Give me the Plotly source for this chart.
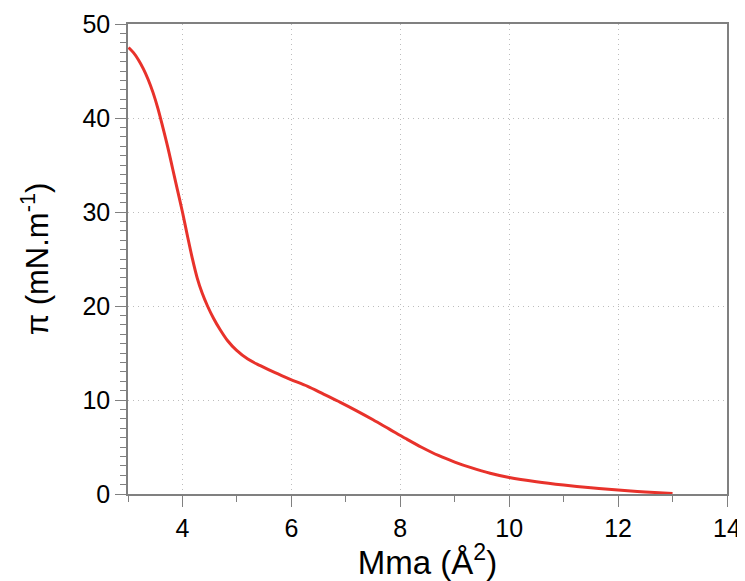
import plotly.graph_objects as go

mma = [3.01, 3.10, 3.19, 3.28, 3.37, 3.46, 3.55, 3.64, 3.73, 3.82, 3.91, 4.00,
       4.09, 4.18, 4.27, 4.36, 4.46, 4.57, 4.69, 4.83, 4.99, 5.20, 5.43, 5.70,
       5.98, 6.30, 6.60, 6.90, 7.20, 7.50, 7.80, 8.10, 8.40, 8.70, 9.00, 9.30,
       9.65, 10.0, 10.5, 11.0, 11.5, 12.0, 12.5, 13.0]
pressure = [47.5, 46.95, 46.2, 45.25, 44.1, 42.7, 41.0, 39.0, 36.9, 34.6, 32.3, 30.0,
            27.5, 25.1, 23.0, 21.4, 20.0, 18.7, 17.5, 16.3, 15.3, 14.35, 13.65, 12.9,
            12.2, 11.45, 10.6, 9.75, 8.85, 7.9, 6.9, 5.9, 4.95, 4.1, 3.4, 2.8,
            2.2, 1.75, 1.3, 0.95, 0.66, 0.42, 0.22, 0.05]

x_ticks = [4, 6, 8, 10, 12, 14]
x_minor = [3, 5, 7, 9, 11, 13]
y_ticks = [0, 10, 20, 30, 40, 50]

FONT = "Liberation Sans, Arial, Helvetica, sans-serif"
AX = "#808080"
GRID = "#bdbdbd"

fig = go.Figure()
fig.add_trace(go.Scatter(
    x=mma, y=pressure, mode="lines",
    line=dict(color="#e8322b", width=3, shape="spline", smoothing=1),
    showlegend=False, hoverinfo="skip",
))

axis_common = dict(
    showline=True, linecolor=AX, linewidth=1.5, mirror=True,
    ticks="outside", ticklen=11, tickwidth=1.2, tickcolor=AX,
    showgrid=True, gridcolor=GRID, gridwidth=1, griddash="1px,4px",
    zeroline=False, automargin=False,
    tickfont=dict(family=FONT, size=25, color="#000000"),
)

fig.update_xaxes(
    range=[3, 14], tickvals=x_ticks,
    minor=dict(tickvals=x_minor, ticks="outside", ticklen=6,
               tickcolor=AX, tickwidth=1.2, showgrid=False),
    title=dict(text="Mma (Å<sup>2</sup>)", font=dict(family=FONT, size=33, color="#000000"),
               standoff=10),
    **axis_common,
)
fig.update_yaxes(
    range=[0, 50], tickvals=y_ticks,
    minor=dict(dtick=1, ticks="outside", ticklen=6, tickcolor=AX, tickwidth=1.2,
               showgrid=False),
    title=dict(text="π (mN.m<sup>-1</sup>)", font=dict(family=FONT, size=31, color="#000000"),
               standoff=25),
    **axis_common,
)

# The page body has an 8px margin, so the figure is sized to fit the window.
fig.update_layout(
    width=737, height=573,
    margin=dict(l=120, r=18, t=16, b=87, autoexpand=False),
    paper_bgcolor="white", plot_bgcolor="white",
)

fig.write_html("out.html")
